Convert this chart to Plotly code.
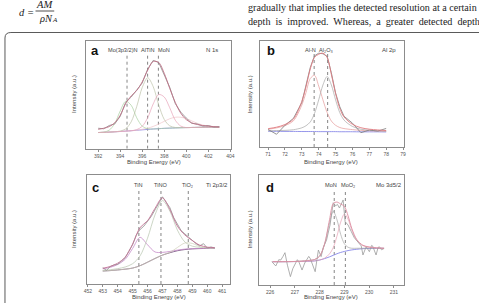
import plotly.graph_objects as go

W, H = 479, 303

# ---------------- Panel a : N 1s ----------------
a_x = [392.0, 392.5, 393.0, 393.5, 394.0, 394.5, 395.0, 395.5, 396.0, 396.5, 397.0, 397.5,
       398.0, 398.5, 399.0, 399.5, 400.0, 400.5, 401.0, 401.5, 402.0, 402.5, 403.0]
a_raw = [19.0, 18.5, 21.5, 23.0, 30.0, 43.0, 48.0, 55.0, 61.0, 74.0, 82.0, 80.0,
         69.0, 57.0, 42.0, 34.0, 28.5, 23.5, 23.0, 21.0, 21.5, 20.0, 20.5]
a_env = [18.0, 19.0, 20.5, 24.0, 31.0, 42.0, 49.0, 54.0, 62.0, 73.0, 81.0, 80.0,
         70.0, 56.0, 43.0, 33.0, 27.0, 24.0, 22.5, 21.5, 21.0, 20.5, 20.0]
a_bg = [15.0, 15.2, 15.4, 15.7, 16.0, 16.3, 16.7, 17.1, 17.5, 17.9, 18.3, 18.6,
        18.9, 19.1, 19.3, 19.5, 19.6, 19.7, 19.8, 19.9, 20.0, 20.0, 20.1]
a_mo3p = [15.0, 15.4, 17.2, 23.3, 35.0, 44.0, 40.3, 28.7, 20.9, 18.5, 18.3, 18.6,
          18.9, 19.1, 19.3, 19.5, 19.6, 19.7, 19.8, 19.9, 20.0, 20.0, 20.1]
a_altin = [15.0, 15.2, 15.4, 15.7, 16.4, 18.4, 25.0, 39.1, 56.8, 65.9, 57.6, 40.6,
           27.2, 21.2, 19.7, 19.5, 19.6, 19.7, 19.8, 19.9, 20.0, 20.0, 20.1]
a_mon = [15.0, 15.2, 15.4, 15.7, 16.0, 16.3, 16.7, 17.7, 20.8, 28.8, 41.6, 50.3,
         48.0, 38.0, 26.5, 21.0, 19.6, 19.7, 19.8, 19.9, 20.0, 20.0, 20.1]
a_tail = [15.0, 15.2, 15.4, 15.7, 16.0, 16.3, 16.7, 17.1, 18.0, 19.0, 20.7, 22.9,
          25.4, 27.8, 29.2, 29.2, 27.9, 25.8, 23.6, 22.0, 21.0, 20.4, 20.1]
a_peaks = [394.62, 396.49, 397.47]
a_labels = ["Mo(3p3/2)N", "AlTiN", "MoN"]

# ---------------- Panel b : Al 2p ----------------
b_x = [71.0, 71.5, 72.0, 72.5, 73.0, 73.25, 73.5, 73.75, 74.0, 74.25, 74.5, 74.75,
       75.0, 75.25, 75.5, 76.0, 76.5, 77.0, 77.5, 78.0]
b_raw = [16.5, 12.0, 20.5, 27.0, 42.0, 58.0, 75.0, 86.0, 88.5, 88.0, 85.5, 70.0,
         51.0, 38.0, 29.0, 22.5, 13.5, 16.0, 15.0, 17.5]
b_env = [17.3, 18.7, 21.2, 26.3, 43.1, 57.1, 73.6, 84.6, 87.5, 88.5, 84.5, 68.5,
         50.5, 36.4, 28.4, 21.4, 18.2, 16.8, 16.1, 15.5]
b_bg = [14.8, 14.8, 14.7, 14.7, 14.6, 14.6, 14.6, 14.6, 14.5, 14.5, 14.5, 14.5,
        14.5, 14.4, 14.4, 14.4, 14.3, 14.3, 14.3, 14.2]
b_aln = [16.8, 18.0, 20.2, 24.7, 39.6, 51.6, 64.6, 67.6, 57.5, 44.5, 32.5, 24.5,
         20.5, 18.4, 17.4, 16.4, 15.7, 15.3, 15.1, 14.8]
b_al2o3 = [15.3, 15.5, 15.7, 16.3, 18.1, 20.1, 23.6, 31.6, 44.5, 58.5, 66.5, 58.5,
           44.5, 32.4, 25.4, 19.4, 16.8, 15.8, 15.3, 14.9]
b_peaks = [73.73, 74.53]
b_labels = ["Al-N", "Al₂O₃"]

# ---------------- Panel c : Ti 2p3/2 ----------------
c_x = [453.0, 453.5, 454.0, 454.5, 455.0, 455.5, 456.0, 456.5, 457.0, 457.5, 458.0,
       458.5, 459.0, 459.5, 460.0, 460.5]
c_bg = [11.9, 12.3, 12.9, 13.6, 14.6, 16.8, 20.0, 23.4, 26.5, 28.7, 30.5, 31.6,
        32.2, 32.5, 32.7, 32.8]
c_tin = [13.9, 15.3, 17.9, 22.6, 32.6, 42.8, 36.0, 29.4, 29.0, 29.9, 31.1, 32.0,
         32.4, 32.6, 32.8, 32.9]
c_tino = [12.4, 13.1, 14.1, 15.6, 18.6, 25.8, 42.0, 63.4, 76.5, 66.7, 49.5, 38.6,
          34.7, 33.7, 33.4, 33.2]
c_tio2 = [11.9, 12.3, 12.9, 13.6, 14.6, 16.8, 20.0, 23.4, 26.5, 29.0, 33.5, 37.6,
          37.2, 34.3, 33.0, 32.9]
c_env = [14.4, 16.1, 19.1, 24.6, 36.6, 51.8, 58.0, 69.4, 79.0, 68.2, 53.1, 45.0,
         39.9, 35.6, 33.8, 33.3]
c_raw_x = [453.0, 453.25, 453.5, 453.75, 454.0, 454.25, 454.5, 454.75, 455.0, 455.25,
           455.5, 455.75, 456.0, 456.25, 456.5, 456.75, 457.0, 457.25, 457.5, 457.75,
           458.0, 458.25, 458.5, 458.75, 459.0, 459.25, 459.5, 459.75, 460.0, 460.25, 460.5]
c_raw = [15.0, 12.5, 16.0, 17.5, 18.0, 21.0, 24.0, 30.0, 36.0, 45.0, 50.0, 53.0, 57.0,
         62.0, 68.0, 74.0, 80.0, 75.0, 70.0, 61.0, 55.0, 49.0, 46.0, 43.0, 40.0, 37.0,
         35.0, 37.0, 33.0, 34.0, 33.0]
c_peaks = [455.42, 456.9, 458.73]
c_labels = ["TiN", "TiNO", "TiO₂"]

# ---------------- Panel d : Mo 3d5/2 ----------------
d_x = [226.1, 226.5, 227.0, 227.5, 227.8, 228.0, 228.2, 228.4, 228.55, 228.7, 228.85,
       229.0, 229.15, 229.3, 229.5, 229.75, 230.0, 230.3, 230.6]
d_bg = [21.2, 21.2, 21.3, 21.5, 21.9, 22.7, 24.0, 25.6, 27.0, 28.4, 29.6, 30.5, 31.3,
        31.9, 32.5, 33.0, 33.2, 33.3, 33.3]
d_mon = [21.2, 21.2, 21.4, 22.2, 23.2, 26.2, 37.0, 56.6, 67.0, 59.4, 46.1, 37.5, 34.3,
         33.4, 33.4, 33.4, 33.5, 33.4, 33.3]
d_moo2 = [21.2, 21.2, 21.3, 21.5, 21.9, 22.7, 24.4, 28.3, 34.0, 44.4, 57.1, 64.5, 59.8,
          49.9, 40.5, 35.7, 34.3, 33.7, 33.4]
d_env = [21.2, 21.2, 21.4, 22.2, 23.2, 26.2, 37.4, 59.3, 74.0, 75.4, 73.6, 71.5, 62.8,
         51.4, 41.4, 36.1, 34.6, 33.8, 33.4]
d_raw_x = [226.07, 226.23, 226.35, 226.43, 226.52, 226.6, 226.7, 226.82, 226.92, 227.02,
           227.1, 227.16, 227.29, 227.4, 227.49, 227.56, 227.62, 227.72, 227.82, 227.95,
           228.06, 228.15, 228.28, 228.42, 228.55, 228.65, 228.72, 228.8, 228.88, 228.95,
           229.03, 229.15, 229.28, 229.4, 229.48, 229.58, 229.68, 229.75, 229.88, 230.01,
           230.1, 230.14, 230.22, 230.28, 230.36, 230.41, 230.5, 230.61]
d_raw = [21.2, 17.3, 23.0, 22.7, 26.0, 29.4, 18.0, 7.6, 15.0, 20.0, 23.0, 21.2, 13.6,
         20.0, 24.2, 26.0, 24.2, 18.0, 12.1, 31.8, 25.8, 34.2, 40.9, 54.5, 74.8, 72.0,
         73.3, 70.0, 74.8, 77.3, 57.6, 54.5, 48.5, 43.0, 40.9, 38.0, 35.5, 27.3, 34.8,
         30.3, 36.0, 35.5, 30.0, 27.3, 34.0, 34.8, 32.0, 33.3]
d_peaks = [228.59, 229.04]
d_labels = ["MoN", "MoO₂"]

panel_titles = ["N 1s", "Al 2p", "Ti 2p3/2", "Mo 3d5/2"]
panel_letters = ["a", "b", "c", "d"]

# ---------------- layout helpers (pixels -> paper) ----------------
def px(x):
    return x / W

def py(y):
    return 1 - y / H

SANS = "Liberation Sans, Arial, DejaVu Sans, sans-serif"
SERIF = "Liberation Serif, Times New Roman, DejaVu Serif, serif"

fig = go.Figure()

def add_lines(xa, ya, xs, series, colors, widths):
    for ys, col, w in zip(series, colors, widths):
        fig.add_trace(go.Scatter(x=xs, y=ys, mode="lines", xaxis=xa, yaxis=ya,
                                 line=dict(color=col, width=w, shape="spline", smoothing=0.9),
                                 showlegend=False, hoverinfo="skip"))

def add_dashes(xa, ya, peaks, top):
    for p in peaks:
        fig.add_trace(go.Scatter(x=[p, p], y=[0, top], mode="lines", xaxis=xa, yaxis=ya,
                                 line=dict(color="#777777", width=0.9, dash="dot"),
                                 showlegend=False, hoverinfo="skip"))

# panel a
add_dashes("x", "y", a_peaks, 88)
add_lines("x", "y", a_x, [a_bg, a_tail, a_mo3p, a_altin, a_mon],
          ["#8f8fe6", "#efc4c8", "#a9d0a0", "#bcc2a8", "#e6a2b8"], [0.9, 0.7, 0.7, 0.7, 0.7])
fig.add_trace(go.Scatter(x=a_x, y=a_raw, mode="lines", xaxis="x", yaxis="y",
                         line=dict(color="#8a8a8a", width=0.8), showlegend=False))
add_lines("x", "y", a_x, [a_env], ["#c06f86"], [0.9])

# panel b
add_dashes("x2", "y2", b_peaks, 89)
add_lines("x2", "y2", b_x, [b_bg, b_aln, b_al2o3],
          ["#8a8ae8", "#e59a9a", "#a8a8a8"], [0.9, 0.7, 0.7])
fig.add_trace(go.Scatter(x=b_x, y=b_raw, mode="lines", xaxis="x2", yaxis="y2",
                         line=dict(color="#7a7a7a", width=0.8), showlegend=False))
add_lines("x2", "y2", b_x, [b_env], ["#e07a80"], [0.9])

# panel c
add_dashes("x3", "y3", c_peaks, 88)
add_lines("x3", "y3", c_x, [c_bg, c_tin, c_tino, c_tio2],
          ["#7a5a82", "#c58ac8", "#b6c4ae", "#cfcfb8"], [0.9, 0.8, 0.7, 0.7])
fig.add_trace(go.Scatter(x=c_raw_x, y=c_raw, mode="lines", xaxis="x3", yaxis="y3",
                         line=dict(color="#8e8e8e", width=0.8), showlegend=False))
add_lines("x3", "y3", c_x, [c_env], ["#c27495"], [0.9])

# panel d
add_dashes("x4", "y4", d_peaks, 86)
add_lines("x4", "y4", d_x, [d_bg, d_mon, d_moo2],
          ["#8686e6", "#a8a8a8", "#e6a0b4"], [0.9, 0.7, 0.7])
fig.add_trace(go.Scatter(x=d_raw_x, y=d_raw, mode="lines", xaxis="x4", yaxis="y4",
                         line=dict(color="#9a9a9a", width=0.8), showlegend=False))
add_lines("x4", "y4", d_x, [d_env], ["#dd8fa2"], [0.9])

# ---------------- axes ----------------
frame = dict(showline=True, mirror=True, linecolor="#8c8c8c", linewidth=1,
             showgrid=False, zeroline=False)
xcommon = dict(frame, ticks="outside", ticklen=2, tickwidth=0.7, tickcolor="#8c8c8c",
               tickfont=dict(family=SANS, size=5, color="#555555"))
ycommon = dict(frame, showticklabels=False, ticks="", range=[0, 100])

panels = {
    "": dict(xd=[84.3, 231.0], yd=[41.0, 148.7], xr=[390.9, 404.03], dt=2),
    "2": dict(xd=[261.0, 407.0], yd=[41.0, 147.0], xr=[70.53, 79.06], dt=1),
    "3": dict(xd=[85.0, 230.0], yd=[175.0, 284.0], xr=[451.93, 461.5], dt=1),
    "4": dict(xd=[260.0, 407.0], yd=[175.0, 285.0], xr=[225.56, 231.41], dt=1),
}
lay = {}
for k, p in panels.items():
    lay["xaxis" + k] = dict(xcommon, domain=[px(p["xd"][0]), px(p["xd"][1])], range=p["xr"],
                            dtick=p["dt"], anchor="y" + k)
    lay["yaxis" + k] = dict(ycommon, domain=[py(p["yd"][1]), py(p["yd"][0])], anchor="x" + k)

ann = []
def text(x, y, s, size=6, color="#444444", family=SANS, angle=0, xanchor="center",
         weight="normal", style="normal"):
    ann.append(dict(x=px(x), y=py(y), xref="paper", yref="paper", text=s, showarrow=False,
                    font=dict(family=family, size=size, color=color, weight=weight, style=style),
                    textangle=angle, xanchor=xanchor, yanchor="middle"))

# axis titles
for cx, cy in [(153, 162), (333, 162), (158, 297), (333, 297)]:
    text(cx, cy, "Binding Energy (eV)", size=6)
for cx, cy in [(72, 94), (251, 94), (72, 229), (251, 229)]:
    text(cx, cy, "Intensity (a.u.)", size=6, angle=-90)

# panel letters & titles
for (lx, ly), s in zip([(93, 50), (272, 50), (94, 187), (271, 187)], panel_letters):
    text(lx, ly, s, size=13, color="#111111", weight="bold")
for (tx, ty), s in zip([(212, 50), (392, 50), (217, 185), (392, 185)], panel_titles):
    text(tx, ty, s, size=6)

# peak labels above the dashed lines (data position -> pixel through the axis mapping)
def peak_labels(k, peaks, labels, yline, shifts):
    p = panels[k]
    x0, x1 = p["xd"]
    r0, r1 = p["xr"]
    for v, s, sh in zip(peaks, labels, shifts):
        xpix = x0 + (v - r0) / (r1 - r0) * (x1 - x0) + sh
        text(xpix, yline, s, size=5.6)

peak_labels("", a_peaks, a_labels, 50, [-4, 0, 6])
peak_labels("2", b_peaks, b_labels, 50, [-4, -2])
peak_labels("3", c_peaks, c_labels, 185, [0, 0, -1])
peak_labels("4", d_peaks, d_labels, 185, [-3, 3])

# page text above the figure
INK = "#222222"
text(14, 12.5, "d =", size=10.5, color=INK, family=SERIF, xanchor="left", style="italic")
text(42.5, 4.5, "AM", size=10.5, color=INK, family=SERIF, style="italic")
text(34, 18, "ρN", size=10.5, color=INK, family=SERIF, style="italic", xanchor="left")
text(47.3, 20.5, "A", size=7, color=INK, family=SERIF, style="italic", xanchor="left")
text(246.5, 7.5, "gradually that implies the detected resolution at a certain", size=10.1,
     color=INK, family=SERIF, xanchor="left")
text(246.5, 22, "depth  is  improved.  Whereas,  a  greater  detected  depth",
     size=10.1, color=INK, family=SERIF, xanchor="left")

shapes = [
    dict(type="line", xref="paper", yref="paper", x0=px(33), x1=px(52), y0=py(11), y1=py(11),
         line=dict(color=INK, width=0.8)),
    dict(type="path", xref="paper", yref="paper",
         path=f"M {px(2)},{py(320)} L {px(2)},{py(38)} Q {px(2)},{py(32.5)} {px(8)},{py(32.5)} "
              f"L {px(500)},{py(32.5)}",
         line=dict(color="#5a5a5a", width=1)),
]

fig.update_layout(width=W, height=H, margin=dict(l=0, r=0, t=0, b=0),
                  paper_bgcolor="white", plot_bgcolor="white", showlegend=False,
                  annotations=ann, shapes=shapes, **lay)

fig.write_html("out.html")
